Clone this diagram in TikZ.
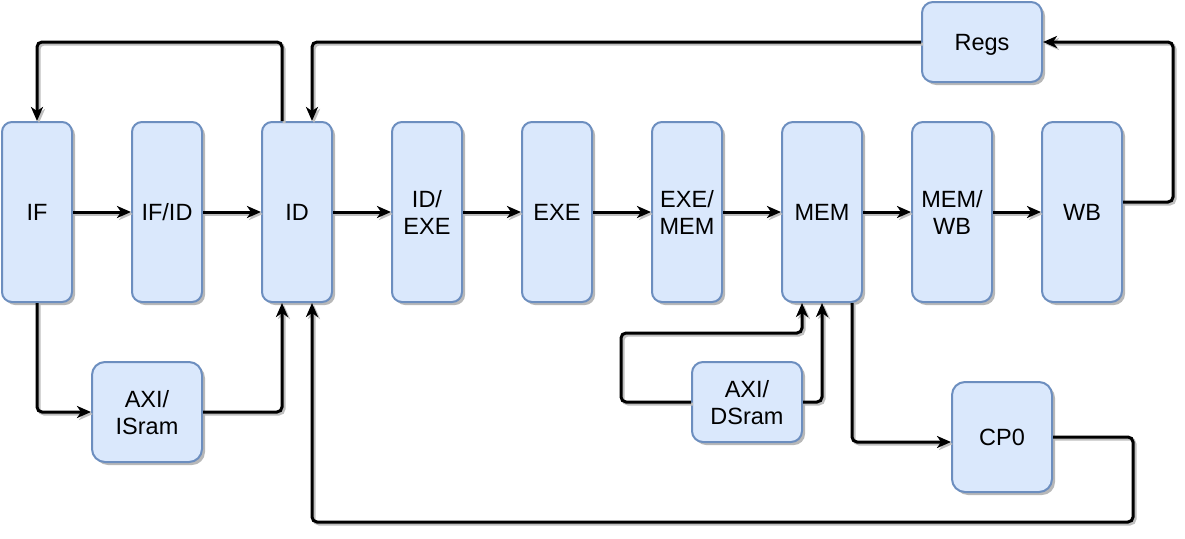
\documentclass[tikz,border=0pt]{standalone}
\usepackage{fontspec}
\setmainfont{Liberation Sans}
\usetikzlibrary{arrows.meta,shadows}
\definecolor{boxfill}{HTML}{DAE8FC}
\definecolor{boxline}{HTML}{6C8EBF}
\tikzset{
  blk/.style={draw=boxline, fill=boxfill, line width=2pt, inner sep=0pt, align=center,
    font=\fontsize{23.5}{27}\selectfont, text depth=0pt,
    drop shadow={shadow xshift=3pt, shadow yshift=-3pt, fill=black!28, opacity=1}},
  edge/.style={draw=black, line width=3pt, rounded corners=5pt,
    -{Stealth[length=14pt,width=12pt,inset=4pt]},
    preaction={draw=black!25, line width=3pt, transform canvas={xshift=2pt,yshift=-2pt}}}
}
\begin{document}
\begin{tikzpicture}[x=1pt,y=-1pt]
\useasboundingbox (0,0) rectangle (1185,538);
\node[blk, minimum width=70pt, minimum height=180pt, rounded corners=10pt] (IF) at (37,212) {IF};
\node[blk, minimum width=70pt, minimum height=180pt, rounded corners=10pt] (IFID) at (167,212) {IF/ID};
\node[blk, minimum width=70pt, minimum height=180pt, rounded corners=10pt] (ID) at (297,212) {ID};
\node[blk, minimum width=70pt, minimum height=180pt, rounded corners=10pt] (IDEXE) at (427,212) {ID/\\EXE};
\node[blk, minimum width=70pt, minimum height=180pt, rounded corners=10pt] (EXE) at (557,212) {EXE};
\node[blk, minimum width=70pt, minimum height=180pt, rounded corners=10pt] (EXEMEM) at (687,212) {EXE/\\MEM};
\node[blk, minimum width=80pt, minimum height=180pt, rounded corners=11pt] (MEM) at (822,212) {MEM};
\node[blk, minimum width=80pt, minimum height=180pt, rounded corners=11pt] (MEMWB) at (952,212) {MEM/\\WB};
\node[blk, minimum width=80pt, minimum height=180pt, rounded corners=11pt] (WB) at (1082,212) {WB};
\node[blk, minimum width=120pt, minimum height=80pt, rounded corners=11pt] (Regs) at (982,42) {Regs};
\node[blk, minimum width=110pt, minimum height=100pt, rounded corners=13pt] (ISram) at (147,412) {AXI/\\ISram};
\node[blk, minimum width=110pt, minimum height=80pt, rounded corners=11pt] (DSram) at (747,402) {AXI/\\DSram};
\node[blk, minimum width=100pt, minimum height=110pt, rounded corners=13pt] (CP0) at (1002,437) {CP0};

\draw[edge] (IF.east) -- (IFID.west);
\draw[edge] (IFID.east) -- (ID.west);
\draw[edge] (ID.east) -- (IDEXE.west);
\draw[edge] (IDEXE.east) -- (EXE.west);
\draw[edge] (EXE.east) -- (EXEMEM.west);
\draw[edge] (EXEMEM.east) -- (MEM.west);
\draw[edge] (MEM.east) -- (MEMWB.west);
\draw[edge] (MEMWB.east) -- (WB.west);

\draw[edge] ([xshift=-15pt]ID.north) -- ([xshift=-15pt]ID.north |- Regs.west) -| (IF.north);
\draw[edge] (Regs.west) -| ([xshift=15pt]ID.north);
\draw[edge] ([yshift=10pt]WB.east) -- ++(50,0) |- (Regs.east);
\draw[edge] (IF.south) |- (ISram.west);
\draw[edge] (ISram.east) -| ([xshift=-15pt]ID.south);
\draw[edge] (DSram.west) -- ++(-70,0) |- ([xshift=-20pt,yshift=-30pt]MEM.south) -- ([xshift=-20pt]MEM.south);
\draw[edge] (DSram.east) -| (MEM.south);
\draw[edge] ([xshift=30pt]MEM.south) |- ([yshift=-5pt]CP0.west);
\draw[edge] (CP0.east) -- ++(80,0) -- ++(0,85) -| ([xshift=15pt]ID.south);
\end{tikzpicture}
\end{document}
